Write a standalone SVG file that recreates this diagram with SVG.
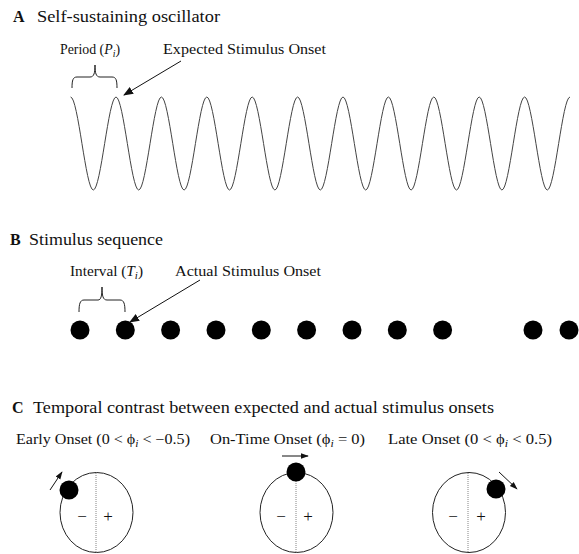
<svg xmlns="http://www.w3.org/2000/svg" width="579" height="554" viewBox="0 0 579 554" font-family="'Liberation Serif', 'DejaVu Serif', serif">
<style>
text{font-family:'Liberation Serif','DejaVu Serif',serif;fill:#111}
.t{font-size:16px}
.b{font-weight:bold}
.l{font-size:14px}
.it{font-style:italic}
.sub{font-size:10px;font-style:italic}
.wave{fill:none;stroke:#444;stroke-width:1}
.brace{fill:none;stroke:#222;stroke-width:1}
.arr{stroke:#111;stroke-width:1;fill:none}
.ell{fill:none;stroke:#222;stroke-width:1}
.dl{stroke:#666;stroke-width:0.8;stroke-dasharray:1,1}
.pm{font-size:17px;text-anchor:middle}
</style>
<defs>
<marker id="ah" viewBox="0 0 10 10" refX="9" refY="5" markerWidth="10" markerHeight="10" markerUnits="userSpaceOnUse" orient="auto"><path d="M0,1 L10,5 L0,9 z" fill="#111"/></marker>
<marker id="ah2" viewBox="0 0 10 10" refX="9" refY="5" markerWidth="8" markerHeight="8" markerUnits="userSpaceOnUse" orient="auto"><path d="M0,1.5 L10,5 L0,8.5 z" fill="#111"/></marker>
</defs>

<g id="panel-a">
<text class="t b" x="13" y="22">A</text>
<text class="t" x="37" y="22" textLength="183" lengthAdjust="spacingAndGlyphs">Self-sustaining oscillator</text>
<text class="l" x="60" y="54" textLength="60" lengthAdjust="spacingAndGlyphs">Period (<tspan class="it">P</tspan><tspan class="sub" dy="3">i</tspan><tspan dy="-3">)</tspan></text>
<text class="l" x="163" y="54" textLength="163" lengthAdjust="spacingAndGlyphs">Expected Stimulus Onset</text>
<path class="brace" d="M72,88 C72,80 73,77 77,77 L90,77 C94,77 95,73 95,65 C95,73 96,77 100,77 L112,77 C116,77 117,80 117,88"/>
<path class="wave" d="M70.6,97 c7.567,0 15.133,93 22.7,93 s15.133,-93 22.7,-93 s15.133,93 22.7,93 s15.133,-93 22.7,-93 s15.133,93 22.7,93 s15.133,-93 22.7,-93 s15.133,93 22.7,93 s15.133,-93 22.7,-93 s15.133,93 22.7,93 s15.133,-93 22.7,-93 s15.133,93 22.7,93 s15.133,-93 22.7,-93 s15.133,93 22.7,93 s15.133,-93 22.7,-93 s15.133,93 22.7,93 s15.133,-93 22.7,-93 s15.133,93 22.7,93 s15.133,-93 22.7,-93 s15.133,93 22.7,93 s15.133,-93 22.7,-93 s15.133,93 22.7,93 s15.133,-93 22.7,-93"/>
</g>

<g id="panel-b">
<text class="t b" x="10" y="245">B</text>
<text class="t" x="29" y="245" textLength="134" lengthAdjust="spacingAndGlyphs">Stimulus sequence</text>
<text class="l" x="70" y="276" textLength="73" lengthAdjust="spacingAndGlyphs">Interval (<tspan class="it">T</tspan><tspan class="sub" dy="3">i</tspan><tspan dy="-3">)</tspan></text>
<text class="l" x="175" y="276" textLength="146" lengthAdjust="spacingAndGlyphs">Actual Stimulus Onset</text>
<path class="brace" d="M79,312 C79,304 80,300 84,300 L98,300 C101,300 102,296 102,287 C102,296 103,300 107,300 L120,300 C124,300 125,304 125,312"/>
<g id="dots" fill="#000">
<circle cx="80" cy="330" r="9.5"/>
<circle cx="125.3" cy="330" r="9.5"/>
<circle cx="170.6" cy="330" r="9.5"/>
<circle cx="216" cy="330" r="9.5"/>
<circle cx="261.3" cy="330" r="9.5"/>
<circle cx="306.6" cy="330" r="9.5"/>
<circle cx="352" cy="330" r="9.5"/>
<circle cx="397.3" cy="330" r="9.5"/>
<circle cx="442.6" cy="330" r="9.5"/>
<circle cx="533" cy="330" r="9.5"/>
<circle cx="569" cy="330" r="9.5"/>
</g>
</g>

<g id="panel-c">
<text class="t b" x="12" y="413">C</text>
<text class="t" x="33" y="413" textLength="461" lengthAdjust="spacingAndGlyphs">Temporal contrast between expected and actual stimulus onsets</text>
<text class="l" x="16" y="444" textLength="174" lengthAdjust="spacingAndGlyphs">Early Onset (0 &lt; ϕ<tspan class="sub" dy="3">i</tspan><tspan dy="-3"> &lt; −0.5)</tspan></text>
<text class="l" x="210" y="444" textLength="155" lengthAdjust="spacingAndGlyphs">On-Time Onset (ϕ<tspan class="sub" dy="3">i</tspan><tspan dy="-3"> = 0)</tspan></text>
<text class="l" x="388" y="444" textLength="164" lengthAdjust="spacingAndGlyphs">Late Onset (0 &lt; ϕ<tspan class="sub" dy="3">i</tspan><tspan dy="-3"> &lt; 0.5)</tspan></text>

<g id="early">
<ellipse class="ell" cx="96.5" cy="512.5" rx="36.5" ry="40"/>
<line class="dl" x1="96" y1="473" x2="96" y2="552"/>
<text class="pm" x="82" y="522">−</text>
<text class="pm" x="108" y="522">+</text>
<circle cx="69" cy="490" r="9.5" fill="#000"/>
</g>
<g id="on-time">
<ellipse class="ell" cx="296.5" cy="512.5" rx="36.5" ry="40"/>
<line class="dl" x1="296" y1="473" x2="296" y2="552"/>
<text class="pm" x="281" y="522">−</text>
<text class="pm" x="308" y="522">+</text>
<circle cx="296" cy="472" r="9.5" fill="#000"/>
</g>
<g id="late">
<ellipse class="ell" cx="469" cy="512.5" rx="36.5" ry="40"/>
<line class="dl" x1="468" y1="473" x2="468" y2="552"/>
<text class="pm" x="453" y="522">−</text>
<text class="pm" x="481" y="522">+</text>
<circle cx="496" cy="489" r="9.5" fill="#000"/>
</g>
</g>

<g id="connectors">
<line class="arr" x1="181" y1="61" x2="124" y2="95" marker-end="url(#ah)"/>
<line class="arr" x1="200" y1="280" x2="130" y2="322" marker-end="url(#ah)"/>
<line class="arr" x1="50" y1="490" x2="62" y2="472" marker-end="url(#ah2)"/>
<line class="arr" x1="282" y1="456" x2="308" y2="456" marker-end="url(#ah2)"/>
<line class="arr" x1="499" y1="472" x2="517" y2="489" marker-end="url(#ah2)"/>
</g>
</svg>
